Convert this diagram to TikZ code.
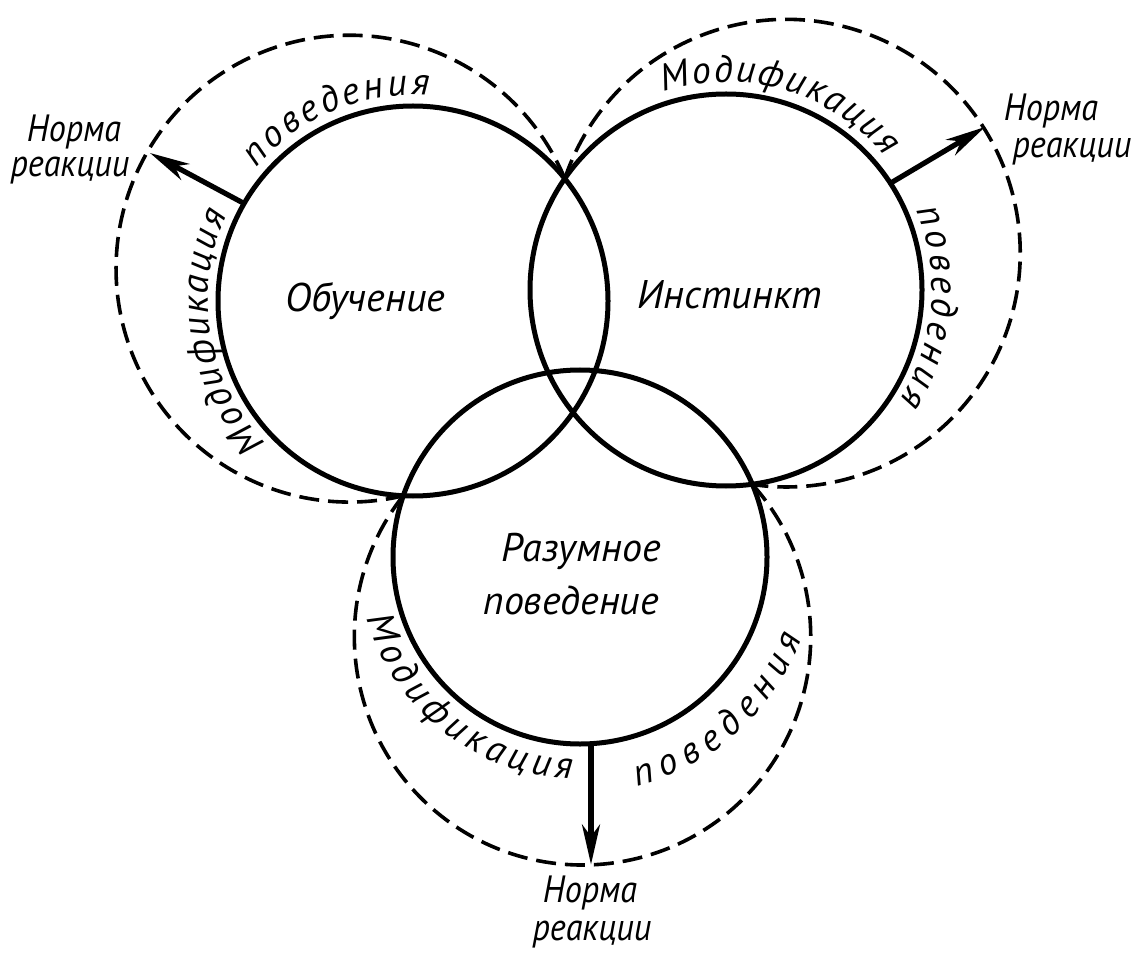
\documentclass[tikz,border=0pt]{standalone}
\usepackage{fontspec}
\newfontfamily\gost{PT Sans}
\newfontfamily\gostn[FakeStretch=0.9]{PT Sans}
\usetikzlibrary{arrows.meta,decorations.text,calc}
\newcommand\arcfont{\gost\itshape\fontsize{19}{22}\selectfont}
\newcommand\lblfont{\gostn\itshape\fontsize{19}{22}\selectfont}
\newcommand\cntfont{\gost\itshape\fontsize{20}{24}\selectfont}
\begin{document}
\begin{tikzpicture}[x=0.5pt,y=-0.5pt,
  solidc/.style={line width=2.5pt},
  dashc/.style={line width=1.8pt, dash pattern=on 10pt off 4.5pt},
  arr/.style={line width=2.6pt, -{Stealth[length=20pt,width=9pt,inset=6pt]}},
  lbl/.style={font=\lblfont, inner sep=0pt},
  cnt/.style={font=\cntfont, inner sep=0pt},
  arctext/.style={decorate, decoration={text along path,
      text={|\arcfont|#1}, text align={fit to path}}}]
\useasboundingbox (0,0) rectangle (1138,956);
% centres and junctions
\coordinate (Lc) at (413,301);
\coordinate (Rc) at (726,290);
\coordinate (Bc) at (580,557);
\coordinate (T) at (564.8,178.6);
\coordinate (LB) at (403.2,495.7);
\coordinate (RB) at (752.3,484.3);
% solid circles
\draw[solidc] (Lc) circle[radius=195];
\draw[solidc] (Rc) circle[radius=196];
\draw[solidc] (Bc) circle[radius=187];
% dashed arcs
\draw[dashc] (T) arc[start angle=-22.7, end angle=-283.3, radius=233.4];
\draw[dashc] (T) arc[start angle=-161.4, end angle=98.4, radius=233.8];
\draw[dashc] (LB) arc[start angle=-141.8, end angle=-401.9, radius=228.2];
% arrows
\coordinate (La) at ($(Lc)+(-150:195)$);
\coordinate (Lt) at (150,153);
\coordinate (Ra) at ($(Rc)+(-33:196)$);
\coordinate (Rt) at (985,127);
\coordinate (Ba) at (591,743.7);
\coordinate (Bt) at (591,864.5);
\draw[arr] (La) -- (Lt);
\draw[arr] (Ra) -- (Rt);
\draw[arr] (Ba) -- (Bt);
% centre labels
\node[cnt] (ob) at (365,301) {Обучение};
\node[cnt] (in) at (730,295) {Инстинкт};
\node[cnt] (raz) at (581,551) {Разумное};
\node[cnt] (pov) at (571,600) {поведение};
% norma labels
\node[lbl, anchor=base] (nl1) at (74,142) {Норма};
\node[lbl, anchor=base] (nl2) at (70,177) {реакции};
\node[lbl, anchor=base] (nr1) at (1051,121) {Норма};
\node[lbl, anchor=base] (nr2) at (1072,158) {реакции};
\node[lbl, anchor=base] (nb1) at (590,902) {Норма};
\node[lbl, anchor=base] (nb2) at (592,940) {реакции};
% curved texts
\path[arctext=поведения] ($(Lc)+(-139.5:206)$) arc[start angle=-139.5,end angle=-85.5,radius=206];
\path[arctext=Модификация] ($(Lc)+(-224:205)$) arc[start angle=-224,end angle=-155,radius=205];
\path[arctext=Модификация] ($(Rc)+(-107.5:208)$) arc[start angle=-107.5,end angle=-40,radius=208];
\path[arctext=поведения] ($(Rc)+(-22.7:206)$) arc[start angle=-22.7,end angle=32.6,radius=206];
\path[arctext=Модификация] ($(Bc)+(-196:222)$) arc[start angle=-196,end angle=-268,radius=222];
\path[arctext=поведения] ($(Bc)+(-284:236)$) arc[start angle=-284,end angle=-340,radius=236];
\end{tikzpicture}
\end{document}
